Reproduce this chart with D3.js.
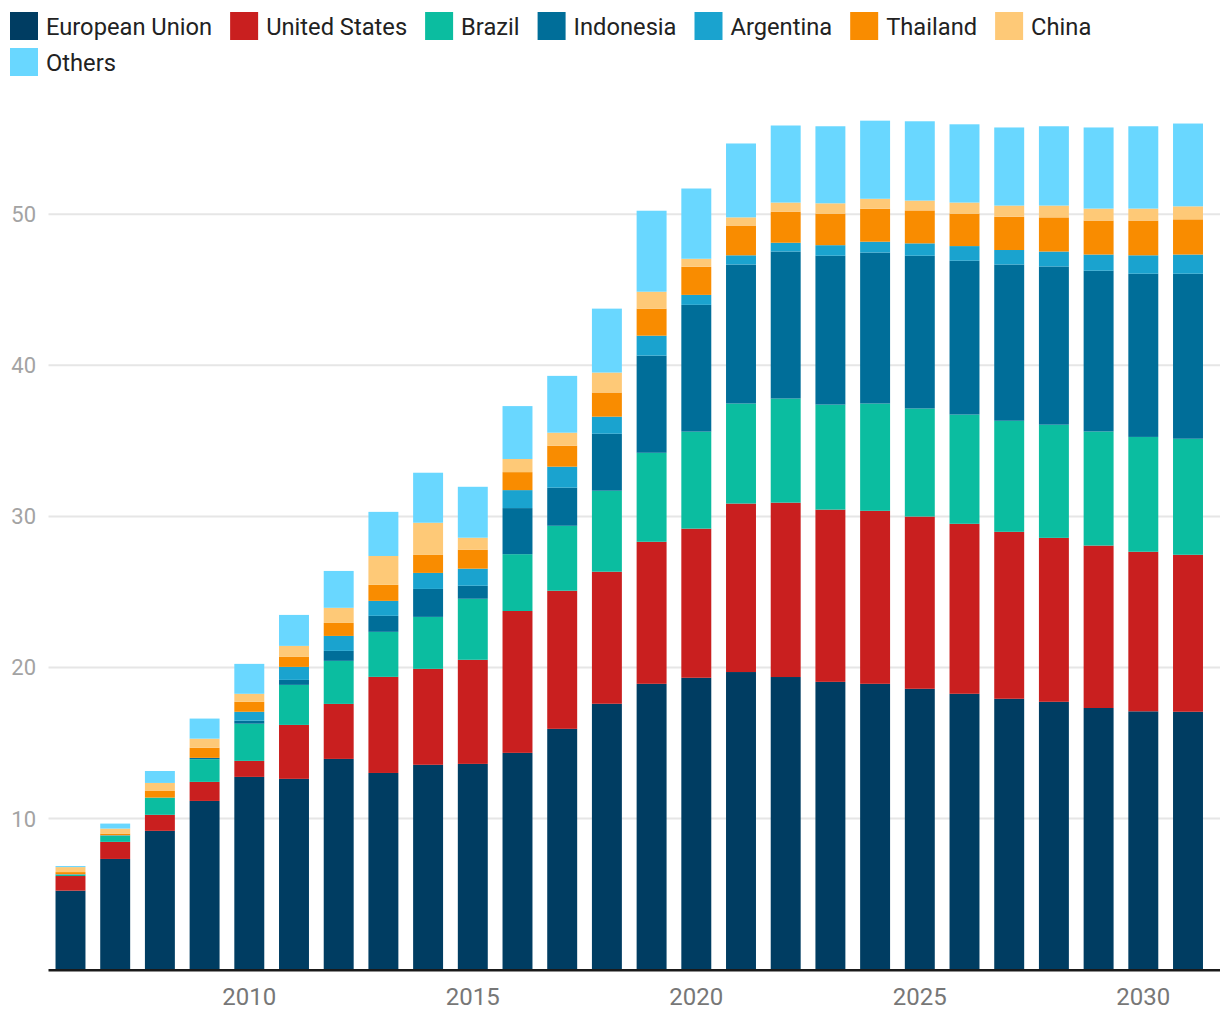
<!DOCTYPE html>
<html>
<head>
<meta charset="utf-8">
<script src="https://cdn.jsdelivr.net/npm/d3@7/dist/d3.min.js"></script>
<style>
  html, body { margin: 0; padding: 0; background: #fff; }
  svg { display: block; font-family: Roboto, "Noto Sans", sans-serif; }
</style>
</head>
<body>
<svg id="chart" width="1220" height="1020"></svg>
<script>
const years = [2006,2007,2008,2009,2010,2011,2012,2013,2014,2015,2016,2017,2018,2019,2020,2021,2022,2023,2024,2025,2026,2027,2028,2029,2030,2031];
const seriesNames = ["European Union","United States","Brazil","Indonesia","Argentina","Thailand","China","Others"];
const seriesColors = ["#003d62","#c91f1f","#0bbda0","#006e99","#1aa3cf","#f98c00","#fec977","#69d7ff"];

const euValues        = [5.23,7.33,9.19,11.17,12.76,12.63,13.95,13.02,13.56,13.62,14.35,15.94,17.6,18.92,19.32,19.7,19.37,19.05,18.92,18.59,18.26,17.93,17.73,17.32,17.1,17.07];
const usValues        = [0.97,1.13,1.06,1.26,1.06,3.57,3.64,6.36,6.35,6.89,9.39,9.14,8.74,9.4,9.87,11.15,11.54,11.4,11.45,11.4,11.25,11.05,10.85,10.75,10.56,10.39];
const brazilValues    = [0.08,0.4,1.14,1.5,2.46,2.65,2.85,2.98,3.44,4.04,3.76,4.3,5.36,5.89,6.42,6.62,6.89,6.95,7.1,7.15,7.23,7.35,7.49,7.55,7.6,7.68];
const indonesiaValues = [0.02,0.02,0,0.09,0.2,0.33,0.66,1.06,1.85,0.86,3.05,2.52,3.77,6.43,8.39,9.2,9.73,9.85,9.99,10.11,10.18,10.34,10.47,10.64,10.8,10.92];
const argentinaValues = [0.02,0.02,0,0,0.59,0.86,0.99,0.99,1.06,1.13,1.19,1.39,1.13,1.32,0.66,0.61,0.58,0.7,0.72,0.82,0.97,0.96,0.99,1.07,1.22,1.27];
const thailandValues  = [0.14,0.11,0.44,0.67,0.66,0.66,0.86,1.06,1.19,1.26,1.19,1.39,1.6,1.79,1.86,1.97,2.06,2.09,2.18,2.18,2.15,2.2,2.26,2.25,2.3,2.33];
const chinaValues     = [0.33,0.33,0.53,0.6,0.53,0.73,1.0,1.91,2.13,0.79,0.87,0.86,1.32,1.12,0.53,0.54,0.6,0.68,0.66,0.65,0.73,0.74,0.78,0.79,0.79,0.86];
const othersValues    = [0.07,0.33,0.79,1.33,1.98,2.05,2.44,2.92,3.31,3.37,3.5,3.76,4.23,5.36,4.65,4.89,5.1,5.1,5.17,5.25,5.18,5.17,5.25,5.37,5.45,5.48];

const xTickValues = [2010,2015,2020,2025,2030];
const yTickValues = [10,20,30,40,50];

const allSeries = [euValues,usValues,brazilValues,indonesiaValues,argentinaValues,thailandValues,chinaValues,othersValues];
const table = years.map((yr,i) => {
  const row = {year: yr};
  seriesNames.forEach((n,k) => row[n] = allSeries[k][i]);
  return row;
});

const svg = d3.select("#chart");
const plotLeft = 48.5, plotRight = 1210, plotBottom = 969.7;

const x = d3.scaleBand().domain(years).range([plotLeft, plotRight]).paddingInner(0.33).paddingOuter(0.157);
const y = d3.scaleLinear().domain([0,50]).range([plotBottom, 214.2]);
const color = d3.scaleOrdinal().domain(seriesNames).range(seriesColors);

// gridlines
svg.append("g").selectAll("line").data(yTickValues).join("line")
  .attr("x1", plotLeft).attr("x2", plotRight + 10)
  .attr("y1", d => y(d)).attr("y2", d => y(d))
  .attr("stroke", "#e6e6e6").attr("stroke-width", 2);

// y labels
svg.append("g").selectAll("text").data(yTickValues).join("text")
  .attr("x", 36).attr("y", d => y(d)).attr("dy", "0.36em")
  .attr("text-anchor", "end").attr("font-size", 22).attr("fill", "#a3a3a3")
  .text(d => d);

// bars
const stack = d3.stack().keys(seriesNames);
const stacked = stack(table);
svg.append("g").selectAll("g").data(stacked).join("g")
  .attr("fill", d => color(d.key))
  .selectAll("rect").data(d => d).join("rect")
  .attr("x", d => x(d.data.year))
  .attr("width", x.bandwidth())
  .attr("y", d => y(d[1]))
  .attr("height", d => Math.max(0, y(d[0]) - y(d[1])));

// baseline
svg.append("line").attr("x1", plotLeft).attr("x2", plotRight + 10)
  .attr("y1", plotBottom + 0.5).attr("y2", plotBottom + 0.5)
  .attr("stroke", "#1a1a1a").attr("stroke-width", 2.5);

// x labels
svg.append("g").selectAll("text").data(xTickValues).join("text")
  .attr("x", d => x(d) + x.bandwidth()/2).attr("y", 996).attr("dy", "0.36em")
  .attr("text-anchor", "middle").attr("font-size", 24).attr("fill", "#777")
  .text(d => d);

// legend
const legend = svg.append("g");
let lx = 10, ly = 12;
seriesNames.forEach((name) => {
  const g = legend.append("g");
  const t = g.append("text").attr("font-size", 23.7).attr("fill", "#222").text(name);
  const w = t.node().getComputedTextLength();
  if (lx + 36 + w > 1160) { lx = 10; ly += 36; }
  g.append("rect").attr("x", lx).attr("y", ly).attr("width", 28).attr("height", 28).attr("fill", color(name));
  t.attr("x", lx + 36).attr("y", ly + 14).attr("dy", "0.36em");
  lx += 36 + w + 18;
});
</script>
</body>
</html>
